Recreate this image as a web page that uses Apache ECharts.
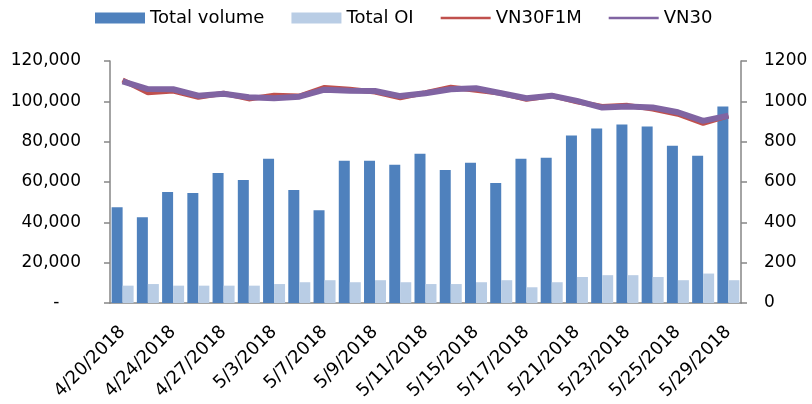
<!DOCTYPE html>
<html>
<head>
<meta charset="utf-8">
<script src="https://cdn.jsdelivr.net/npm/echarts@6/dist/echarts.min.js"></script>
<style>
  html, body { margin: 0; padding: 0; background: #fff; }
  #chart { width: 812px; height: 404px; }
</style>
</head>
<body>
<div id="chart"></div>
<script>
// trading days
const dates = [
  "4/20/2018", "4/23/2018", "4/24/2018", "4/26/2018", "4/27/2018",
  "5/2/2018", "5/3/2018", "5/4/2018", "5/7/2018", "5/8/2018",
  "5/9/2018", "5/10/2018", "5/11/2018", "5/14/2018", "5/15/2018",
  "5/16/2018", "5/17/2018", "5/18/2018", "5/21/2018", "5/22/2018",
  "5/23/2018", "5/24/2018", "5/25/2018", "5/28/2018", "5/29/2018"
];
const totalVolume = [
  47500, 42500, 55000, 54500, 64500, 61000, 71500, 56000, 46000, 70500,
  70500, 68500, 74000, 66000, 69500, 59500, 71500, 72000, 83000, 86500,
  88500, 87500, 78000, 73000, 97500
];
const totalOI = [
  8600, 9400, 8600, 8600, 8600, 8600, 9400, 10300, 11300, 10300,
  11300, 10300, 9400, 9400, 10300, 11300, 7800, 10300, 12900, 13800,
  13800, 12900, 11300, 14600, 11300
];
const vn30f1m = [
  1106, 1043, 1051, 1020, 1040, 1012, 1030, 1026, 1069, 1060,
  1046, 1018, 1043, 1070, 1055, 1040, 1010, 1028, 998, 974,
  980, 962, 936, 891, 928
];
const vn30 = [
  1099, 1061, 1060, 1028, 1038, 1020, 1015, 1023, 1058, 1053,
  1051, 1026, 1040, 1060, 1065, 1040, 1015, 1028, 1002, 969,
  974, 970, 946, 903, 929
];

const chart = echarts.init(document.getElementById("chart"));
const font = "DejaVu Sans";
const axisGray = "#868686";
// thin line icon for the legend
const lineIcon = "path://M0,0h50v2.5H0z";

const option = {
  backgroundColor: "#fff",
  animation: false,
  textStyle: { fontFamily: font, color: "#000" },
  legend: {
    left: 90,
    top: 4,
    itemWidth: 50,
    itemHeight: 11,
    itemGap: 27,
    textStyle: { fontSize: 18, color: "#000" },
    data: [
      { name: "Total volume", icon: "rect" },
      { name: "Total OI", icon: "rect" },
      { name: "VN30F1M", icon: lineIcon },
      { name: "VN30", icon: lineIcon }
    ]
  },
  grid: {
    left: 110,
    right: 71,
    top: 61,
    bottom: 101
  },
  xAxis: {
    type: "category",
    data: dates,
    axisLine: { lineStyle: { color: axisGray, width: 1.5 } },
    axisTick: { interval: 0, length: 6, lineStyle: { color: axisGray, width: 1.5 } },
    axisLabel: {
      interval: 1,
      rotate: 45,
      fontSize: 18,
      color: "#000",
      margin: 26
    }
  },
  yAxis: [
    {
      type: "value",
      min: 0,
      max: 120000,
      interval: 20000,
      splitLine: { show: false },
      axisLine: { show: true, lineStyle: { color: axisGray, width: 1.5 } },
      axisTick: { show: true, length: 6, lineStyle: { color: axisGray, width: 1.5 } },
      axisLabel: {
        fontSize: 17,
        color: "#000",
        margin: 29,
        formatter: (v) => (v === 0 ? "-\u2007\u2007" : v.toLocaleString("en-US"))
      }
    },
    {
      type: "value",
      min: 0,
      max: 1200,
      interval: 200,
      splitLine: { show: false },
      axisLine: { show: true, lineStyle: { color: axisGray, width: 1.5 } },
      axisTick: { show: true, length: 6, lineStyle: { color: axisGray, width: 1.5 } },
      axisLabel: { fontSize: 17, color: "#000", margin: 23, formatter: (v) => String(v) }
    }
  ],
  series: [
    {
      name: "Total volume",
      type: "bar",
      data: totalVolume,
      barWidth: 11,
      barGap: "0%",
      itemStyle: { color: "#4F81BD" }
    },
    {
      name: "Total OI",
      type: "bar",
      data: totalOI,
      barWidth: 11,
      barGap: "0%",
      itemStyle: { color: "#B9CDE5" }
    },
    {
      name: "VN30F1M",
      type: "line",
      yAxisIndex: 1,
      data: vn30f1m,
      symbol: "none",
      lineStyle: { color: "#C0504D", width: 5 },
      itemStyle: { color: "#C0504D" }
    },
    {
      name: "VN30",
      type: "line",
      yAxisIndex: 1,
      data: vn30,
      symbol: "none",
      lineStyle: { color: "#8064A2", width: 6 },
      itemStyle: { color: "#8064A2" }
    }
  ]
};

chart.setOption(option);
window.addEventListener("resize", function () {
  chart.resize();
});
</script>
</body>
</html>
